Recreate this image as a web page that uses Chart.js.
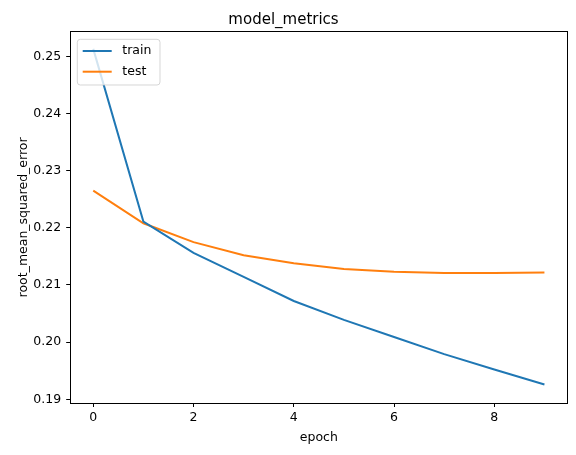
<!DOCTYPE html>
<html><head><meta charset="utf-8">
<script src="https://cdn.jsdelivr.net/npm/chart.js@4/dist/chart.umd.min.js"></script>
<style>html,body{margin:0;padding:0;background:#fff}#wrap{width:576px;height:455px}</style>
</head><body><div id="wrap"><canvas id="c" width="576" height="455" style="width:576px;height:455px"></canvas></div>
<script>
const epochs = [0, 1, 2, 3, 4, 5, 6, 7, 8, 9];
const trainRmse = [0.2513, 0.2211, 0.2156, 0.2114, 0.2072, 0.2039, 0.2009, 0.1979, 0.1952, 0.1926];
const testRmse = [0.2265, 0.2208, 0.2175, 0.2152, 0.2138, 0.2128, 0.2123, 0.2121, 0.2121, 0.2122];
const xTicks = [0, 2, 4, 6, 8];
const yTicks = [0.19, 0.20, 0.21, 0.22, 0.23, 0.24, 0.25];
const seriesNames = ['train', 'test'];
const seriesColors = ['#1f77b4', '#ff7f0e'];
const chartTitle = 'model_metrics';
const xLabel = 'epoch';
const yLabel = 'root_mean_squared_error';

const FONT = "'DejaVu Sans', sans-serif";
Chart.defaults.font.family = FONT;
Chart.defaults.color = '#000';

const frame = {
  id: 'frame',
  afterDatasetsDraw(chart) {
    const a = chart.chartArea, ctx = chart.ctx;
    ctx.save();
    ctx.strokeStyle = '#000';
    ctx.lineWidth = 1;
    const l = Math.round(a.left) - 0.5, t = Math.round(a.top) - 0.5;
    const r = Math.round(a.right) + 0.5, b = Math.round(a.bottom) + 0.5;
    ctx.strokeRect(l, t, r - l, b - t);
    ctx.restore();
  }
};

const boxLegend = {
  id: 'boxLegend',
  afterDraw(chart) {
    const a = chart.chartArea, ctx = chart.ctx;
    const x0 = a.left + 6.6, y0 = a.top + 7, w = 82.7, h = 45.7, rad = 3;
    ctx.save();
    ctx.beginPath();
    ctx.moveTo(x0 + rad, y0);
    ctx.arcTo(x0 + w, y0, x0 + w, y0 + h, rad);
    ctx.arcTo(x0 + w, y0 + h, x0, y0 + h, rad);
    ctx.arcTo(x0, y0 + h, x0, y0, rad);
    ctx.arcTo(x0, y0, x0 + w, y0, rad);
    ctx.closePath();
    ctx.fillStyle = 'rgba(255,255,255,0.8)';
    ctx.fill();
    ctx.strokeStyle = 'rgba(204,204,204,0.8)';
    ctx.lineWidth = 1;
    ctx.stroke();
    ctx.font = '12.5px ' + FONT;
    ctx.textBaseline = 'middle';
    ctx.textAlign = 'left';
    chart.data.datasets.forEach((ds, i) => {
      const y = y0 + 11.7 + i * 20.7;
      ctx.beginPath();
      ctx.moveTo(x0 + 5.4, y);
      ctx.lineTo(x0 + 34.4, y);
      ctx.strokeStyle = ds.borderColor;
      ctx.lineWidth = 2;
      ctx.stroke();
      ctx.fillStyle = '#000';
      ctx.fillText(ds.label, x0 + 45, y);
    });
    ctx.restore();
  }
};

new Chart(document.getElementById('c'), {
  type: 'line',
  data: {
    datasets: [
      { label: seriesNames[0], data: epochs.map((e, i) => ({ x: e, y: trainRmse[i] })), borderColor: seriesColors[0], backgroundColor: seriesColors[0], borderWidth: 2, pointRadius: 0, tension: 0, fill: false },
      { label: seriesNames[1], data: epochs.map((e, i) => ({ x: e, y: testRmse[i] })), borderColor: seriesColors[1], backgroundColor: seriesColors[1], borderWidth: 2, pointRadius: 0, tension: 0, fill: false }
    ]
  },
  options: {
    responsive: false,
    animation: false,
    devicePixelRatio: 1,
    layout: { padding: { left: 0, right: 9, top: 0, bottom: 0 } },
    plugins: {
      legend: { display: false },
      tooltip: { enabled: false },
      title: { display: true, text: chartTitle, color: '#000', font: { size: 15, weight: 'normal', family: FONT, lineHeight: 1.2 }, padding: { top: 10.7, bottom: 3.6 } }
    },
    scales: {
      x: {
        type: 'linear', min: -0.45, max: 9.45,
        afterBuildTicks(s) { s.ticks = xTicks.map(v => ({ value: v })); },
        afterFit(s) { s.height = 52.5; },
        grid: { drawOnChartArea: false, drawTicks: true, tickLength: 4.5, color: '#000', lineWidth: 1 },
        border: { display: false },
        ticks: { padding: 3.5, color: '#000', font: { size: 12.5 }, maxRotation: 0, callback: v => String(v) },
        title: { display: true, text: xLabel, color: '#000', font: { size: 12.5, lineHeight: 1.2 }, padding: { top: 0, bottom: 10.2 } }
      },
      y: {
        type: 'linear', min: 0.18944, max: 0.2542,
        afterBuildTicks(s) { s.ticks = yTicks.map(v => ({ value: v })); },
        afterFit(s) { s.width = 70.7; },
        grid: { drawOnChartArea: false, drawTicks: true, tickLength: 4.5, color: '#000', lineWidth: 1 },
        border: { display: false },
        ticks: { padding: 5, color: '#000', font: { size: 12.5 }, callback: v => v.toFixed(2) },
        title: { display: true, text: yLabel, color: '#000', font: { size: 12.5, lineHeight: 1.2 }, padding: { top: 16.5, bottom: 0 } }
      }
    }
  },
  plugins: [frame, boxLegend]
});
</script>
</body></html>
